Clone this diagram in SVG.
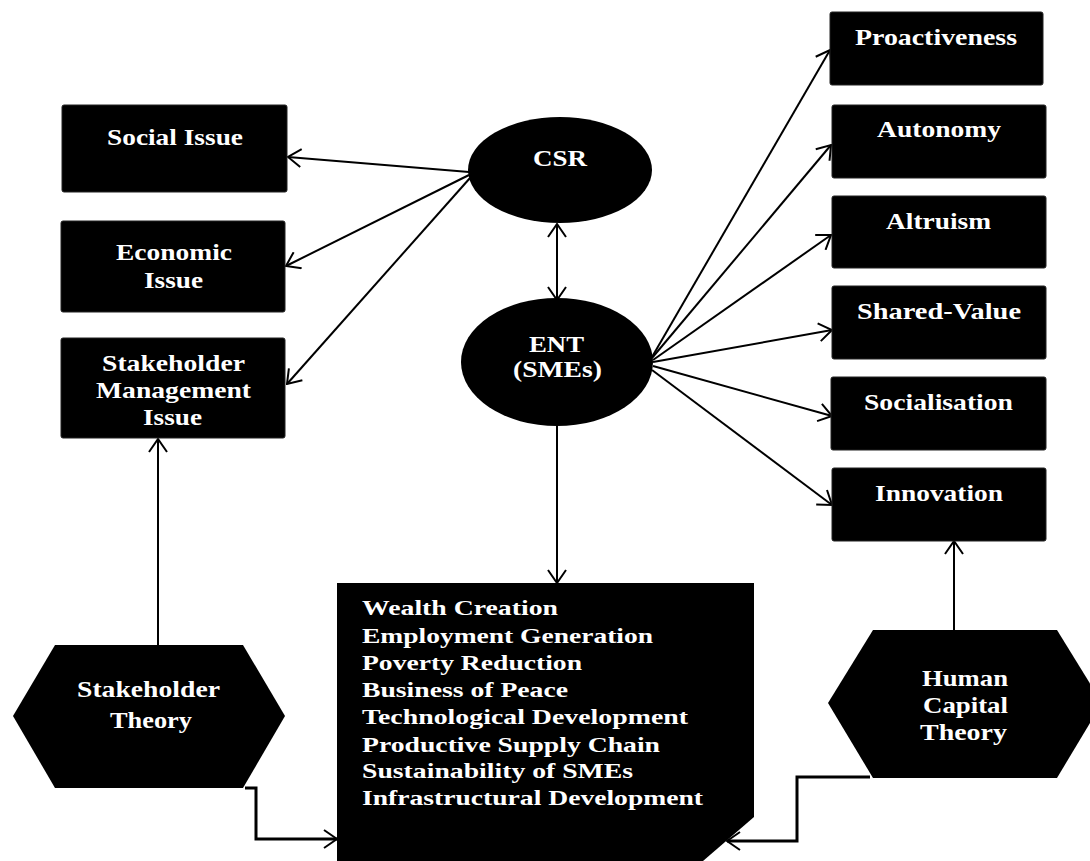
<svg xmlns="http://www.w3.org/2000/svg" width="1090" height="861" viewBox="0 0 1090 861">
  <style>
    .box { fill: #000; stroke: #222; stroke-width: 1; }
    .lbl { font-family: "Liberation Serif", "Times New Roman", serif; font-weight: bold; font-size: 23px; fill: #fff; }
    .lst { font-family: "Liberation Serif", "Times New Roman", serif; font-weight: bold; font-size: 21px; fill: #fff; }
    .con { fill: none; stroke: #000; stroke-width: 2; }
    .elbow { stroke-width: 3; }
  </style>
  <defs>
    <marker id="arrow" viewBox="0 0 15 20" refX="14" refY="10" markerWidth="15" markerHeight="20" markerUnits="userSpaceOnUse" orient="auto-start-reverse">
      <path d="M1,1 L14,10 L1,19" fill="none" stroke="#000" stroke-width="2"/>
    </marker>
  </defs>
  <rect width="1090" height="861" fill="#fff"/>

  <!-- connectors -->
  <g id="connectors" class="con">
    <line x1="469" y1="172" x2="288" y2="157" marker-end="url(#arrow)"/>
    <line x1="469" y1="175" x2="286" y2="266" marker-end="url(#arrow)"/>
    <line x1="470" y1="178" x2="287" y2="384" marker-end="url(#arrow)"/>
    <line x1="557" y1="224" x2="557" y2="300" marker-start="url(#arrow)" marker-end="url(#arrow)"/>
    <line x1="652" y1="357" x2="830" y2="50" marker-end="url(#arrow)"/>
    <line x1="652" y1="358" x2="831" y2="145" marker-end="url(#arrow)"/>
    <line x1="653" y1="360" x2="831" y2="235" marker-end="url(#arrow)"/>
    <line x1="653" y1="362" x2="832" y2="330" marker-end="url(#arrow)"/>
    <line x1="653" y1="366" x2="832" y2="416" marker-end="url(#arrow)"/>
    <line x1="652" y1="370" x2="832" y2="505" marker-end="url(#arrow)"/>
    <line x1="557" y1="426" x2="557" y2="583" marker-end="url(#arrow)"/>
    <line x1="158" y1="645" x2="158" y2="439" marker-end="url(#arrow)"/>
    <line x1="954" y1="630" x2="954" y2="541" marker-end="url(#arrow)"/>
    <polyline class="elbow" points="245,788 256,788 256,839 337,839" marker-end="url(#arrow)"/>
    <polyline class="elbow" points="870,777 797,777 797,841 727,841" marker-end="url(#arrow)"/>
  </g>

  <!-- left issue boxes -->
  <g id="social-issue">
    <rect class="box" x="62" y="105" width="225" height="87" rx="2"/>
    <text class="lbl" x="107" y="145" textLength="136" lengthAdjust="spacingAndGlyphs">Social Issue</text>
  </g>
  <g id="economic-issue">
    <rect class="box" x="61" y="221" width="224" height="91" rx="2"/>
    <text class="lbl" x="116" y="260" textLength="116" lengthAdjust="spacingAndGlyphs">Economic</text>
    <text class="lbl" x="144" y="288" textLength="59" lengthAdjust="spacingAndGlyphs">Issue</text>
  </g>
  <g id="stakeholder-management-issue">
    <rect class="box" x="61" y="338" width="224" height="100" rx="2"/>
    <text class="lbl" x="102" y="371" textLength="143" lengthAdjust="spacingAndGlyphs">Stakeholder</text>
    <text class="lbl" x="96" y="398" textLength="155" lengthAdjust="spacingAndGlyphs">Management</text>
    <text class="lbl" x="143" y="425" textLength="59" lengthAdjust="spacingAndGlyphs">Issue</text>
  </g>

  <!-- centre ellipses -->
  <g id="csr">
    <ellipse cx="560" cy="170" rx="92" ry="53" fill="#000"/>
    <text class="lbl" x="533" y="166" textLength="54" lengthAdjust="spacingAndGlyphs">CSR</text>
  </g>
  <g id="ent">
    <ellipse cx="557" cy="362" rx="96" ry="64" fill="#000"/>
    <text class="lbl" x="529" y="352" textLength="55" lengthAdjust="spacingAndGlyphs">ENT</text>
    <text class="lbl" x="513" y="377" textLength="89" lengthAdjust="spacingAndGlyphs">(SMEs)</text>
  </g>

  <!-- right dimension boxes -->
  <g id="proactiveness">
    <rect class="box" x="830" y="12" width="213" height="73" rx="2"/>
    <text class="lbl" x="855" y="45" textLength="162" lengthAdjust="spacingAndGlyphs">Proactiveness</text>
  </g>
  <g id="autonomy">
    <rect class="box" x="832" y="105" width="214" height="73" rx="2"/>
    <text class="lbl" x="877" y="137" textLength="124" lengthAdjust="spacingAndGlyphs">Autonomy</text>
  </g>
  <g id="altruism">
    <rect class="box" x="832" y="196" width="214" height="72" rx="2"/>
    <text class="lbl" x="886" y="229" textLength="105" lengthAdjust="spacingAndGlyphs">Altruism</text>
  </g>
  <g id="shared-value">
    <rect class="box" x="832" y="286" width="214" height="73" rx="2"/>
    <text class="lbl" x="857" y="319" textLength="164" lengthAdjust="spacingAndGlyphs">Shared-Value</text>
  </g>
  <g id="socialisation">
    <rect class="box" x="831" y="377" width="215" height="73" rx="2"/>
    <text class="lbl" x="864" y="410" textLength="149" lengthAdjust="spacingAndGlyphs">Socialisation</text>
  </g>
  <g id="innovation">
    <rect class="box" x="832" y="468" width="214" height="73" rx="2"/>
    <text class="lbl" x="875" y="501" textLength="128" lengthAdjust="spacingAndGlyphs">Innovation</text>
  </g>

  <!-- theory hexagons -->
  <g id="stakeholder-theory">
    <polygon points="55,645 243,645 285,716 243,788 55,788 13,716" fill="#000"/>
    <text class="lbl" x="77" y="697" textLength="143" lengthAdjust="spacingAndGlyphs">Stakeholder</text>
    <text class="lbl" x="110" y="728" textLength="82" lengthAdjust="spacingAndGlyphs">Theory</text>
  </g>
  <g id="human-capital-theory">
    <polygon points="873,630 1057,630 1102,703 1057,778 873,778 828,703" fill="#000"/>
    <text class="lbl" x="922" y="686" textLength="86" lengthAdjust="spacingAndGlyphs">Human</text>
    <text class="lbl" x="923" y="713" textLength="85" lengthAdjust="spacingAndGlyphs">Capital</text>
    <text class="lbl" x="920" y="740" textLength="87" lengthAdjust="spacingAndGlyphs">Theory</text>
  </g>

  <!-- outcomes box -->
  <g id="outcomes">
    <polygon points="337,583 754,583 754,817 703,861 337,861" fill="#000"/>
    <text class="lst" x="362" y="615" textLength="196" lengthAdjust="spacingAndGlyphs">Wealth Creation</text>
    <text class="lst" x="362" y="643" textLength="291" lengthAdjust="spacingAndGlyphs">Employment Generation</text>
    <text class="lst" x="362" y="670" textLength="220" lengthAdjust="spacingAndGlyphs">Poverty Reduction</text>
    <text class="lst" x="362" y="697" textLength="206" lengthAdjust="spacingAndGlyphs">Business of Peace</text>
    <text class="lst" x="362" y="724" textLength="326" lengthAdjust="spacingAndGlyphs">Technological Development</text>
    <text class="lst" x="362" y="752" textLength="298" lengthAdjust="spacingAndGlyphs">Productive Supply Chain</text>
    <text class="lst" x="362" y="778" textLength="271" lengthAdjust="spacingAndGlyphs">Sustainability of SMEs</text>
    <text class="lst" x="362" y="805" textLength="341" lengthAdjust="spacingAndGlyphs">Infrastructural Development</text>
  </g>
</svg>
